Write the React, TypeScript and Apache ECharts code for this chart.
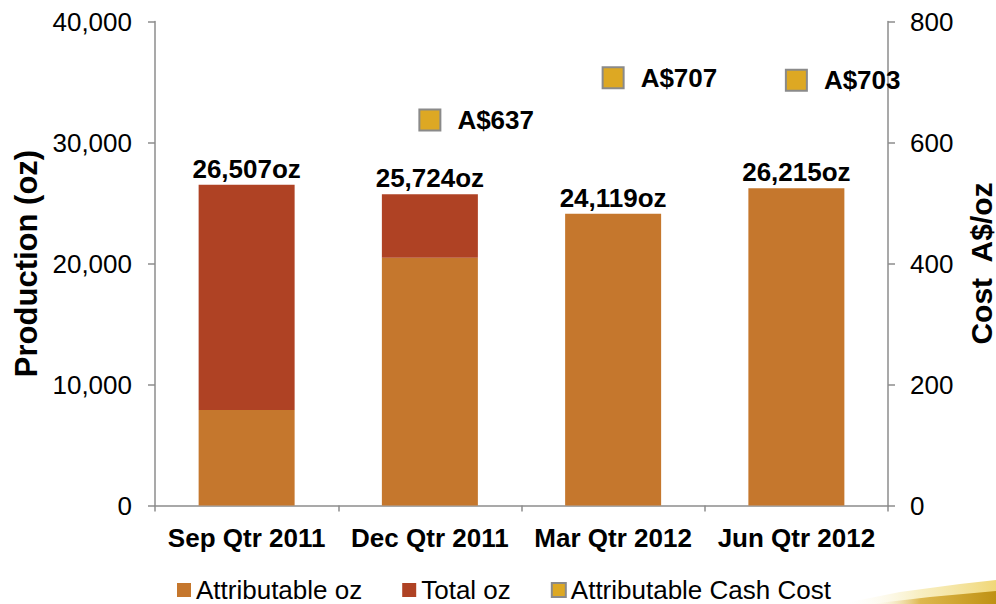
import React, { useEffect, useRef } from "react";
import * as echarts from "echarts";

const categories = ["Sep Qtr 2011", "Dec Qtr 2011", "Mar Qtr 2012", "Jun Qtr 2012"];
const attributableOz = [7900, 20480, 24119, 26215];
const totalOz = [26507, 25724, 24119, 26215];
const cashCost: (number | null)[] = [null, 637, 707, 703];
const leftTicks = [0, 10000, 20000, 30000, 40000];
const rightTicks = [0, 200, 400, 600, 800];

const FONT = "'Liberation Sans', Arial, Helvetica, sans-serif";
const AXIS_COLOR = "#8c8c8c";
const C_ATTR = "#C5772D";
const C_TOTAL = "#AF4224";
const C_COST = "#DDA823";

const fmt = (v: number) => v.toLocaleString("en-US");

export default function App() {
  const ref = useRef<HTMLDivElement>(null);
  useEffect(() => {
    if (!ref.current) return;
    const chart = echarts.init(ref.current, undefined, { renderer: "svg" });
    const remainder = totalOz.map((t, i) => t - attributableOz[i]);
    chart.setOption({
      animation: false,
      textStyle: { fontFamily: FONT },
      grid: { left: 155, right: 108, top: 21.5, bottom: 98.5, containLabel: false, outerBoundsMode: "none" },
      legend: {
        left: 172,
        top: 572,
        itemWidth: 14,
        itemHeight: 14,
        itemGap: 40,
        textStyle: { fontSize: 26, lineHeight: 26, color: "#000", fontFamily: FONT },
        data: [
          { name: "Attributable oz", icon: "rect" },
          { name: "Total oz", icon: "rect" },
          { name: "Attributable Cash Cost", icon: "rect" },
        ],
      },
      xAxis: {
        type: "category",
        data: categories,
        axisLine: { lineStyle: { color: AXIS_COLOR, width: 1.5 } },
        axisTick: { show: true, length: 6, lineStyle: { color: AXIS_COLOR, width: 1.5 } },
        axisLabel: { interval: 0, fontSize: 26, fontWeight: "bold", color: "#000", margin: 19, fontFamily: FONT },
      },
      yAxis: [
        {
          type: "value",
          min: leftTicks[0],
          max: leftTicks[leftTicks.length - 1],
          interval: leftTicks[1] - leftTicks[0],
          name: "Production (oz)",
          nameLocation: "middle",
          nameGap: 110,
          nameRotate: 90,
          nameTextStyle: { fontSize: 31, fontWeight: "bold", color: "#000", fontFamily: FONT },
          axisLine: { show: true, lineStyle: { color: AXIS_COLOR, width: 1.5 } },
          axisTick: { show: true, length: 7, lineStyle: { color: AXIS_COLOR, width: 1.5 } },
          axisLabel: { fontSize: 26, color: "#000", margin: 23, formatter: (v: number) => fmt(v), fontFamily: FONT },
          splitLine: { show: false },
        },
        {
          type: "value",
          min: rightTicks[0],
          max: rightTicks[rightTicks.length - 1],
          interval: rightTicks[1] - rightTicks[0],
          position: "right",
          name: "Cost  A$/oz",
          nameLocation: "middle",
          nameGap: 78,
          nameRotate: 90,
          nameTextStyle: { fontSize: 30, fontWeight: "bold", color: "#000", fontFamily: FONT },
          axisLine: { show: true, lineStyle: { color: AXIS_COLOR, width: 1.5 } },
          axisTick: { show: true, length: 7, lineStyle: { color: AXIS_COLOR, width: 1.5 } },
          axisLabel: { fontSize: 26, color: "#000", margin: 22, fontFamily: FONT },
          splitLine: { show: false },
        },
      ],
      series: [
        {
          name: "Attributable oz",
          type: "bar",
          stack: "prod",
          barWidth: 96,
          data: attributableOz,
          itemStyle: { color: C_ATTR },
        },
        {
          name: "Total oz",
          type: "bar",
          stack: "prod",
          barWidth: 96,
          data: remainder,
          itemStyle: { color: C_TOTAL },
          label: {
            show: true,
            position: "top",
            distance: 3,
            fontSize: 26,
            fontWeight: "bold",
            color: "#000",
            fontFamily: FONT,
            formatter: (p: any) => fmt(totalOz[p.dataIndex]) + "oz",
          },
        },
        {
          name: "Attributable Cash Cost",
          type: "scatter",
          yAxisIndex: 1,
          symbol: "rect",
          symbolSize: 21,
          data: cashCost.map((v) => (v === null ? "-" : v)),
          itemStyle: { color: C_COST, borderColor: "#8a8a8a", borderWidth: 2, opacity: 1 },
          label: {
            show: true,
            position: "right",
            distance: 16,
            fontSize: 26,
            fontWeight: "bold",
            color: "#000",
            fontFamily: FONT,
            formatter: (p: any) => "A$" + p.value,
          },
        },
      ],
      graphic: [
        {
          type: "polygon",
          silent: true,
          shape: { points: [[840, 604], [900, 592], [960, 584], [996, 580], [996, 604]] },
          style: {
            fill: new echarts.graphic.LinearGradient(0, 0, 1, 0, [
              { offset: 0, color: "rgba(255,255,255,0)" },
              { offset: 0.5, color: "rgba(245,232,170,0.7)" },
              { offset: 1, color: "rgba(240,215,120,1)" },
            ]),
          },
        },
        {
          type: "polygon",
          silent: true,
          shape: { points: [[870, 604], [930, 597], [996, 591], [996, 604]] },
          style: {
            fill: new echarts.graphic.LinearGradient(0, 0, 1, 0, [
              { offset: 0, color: "rgba(255,255,255,0)" },
              { offset: 0.4, color: "rgba(215,170,50,0.8)" },
              { offset: 1, color: "rgba(190,145,20,1)" },
            ]),
          },
        },
      ],
    });
    return () => chart.dispose();
  }, []);
  return (
    <div
      ref={ref}
      style={{ position: "fixed", left: 0, top: 0, width: 996, height: 604, background: "#fff" }}
    />
  );
}
